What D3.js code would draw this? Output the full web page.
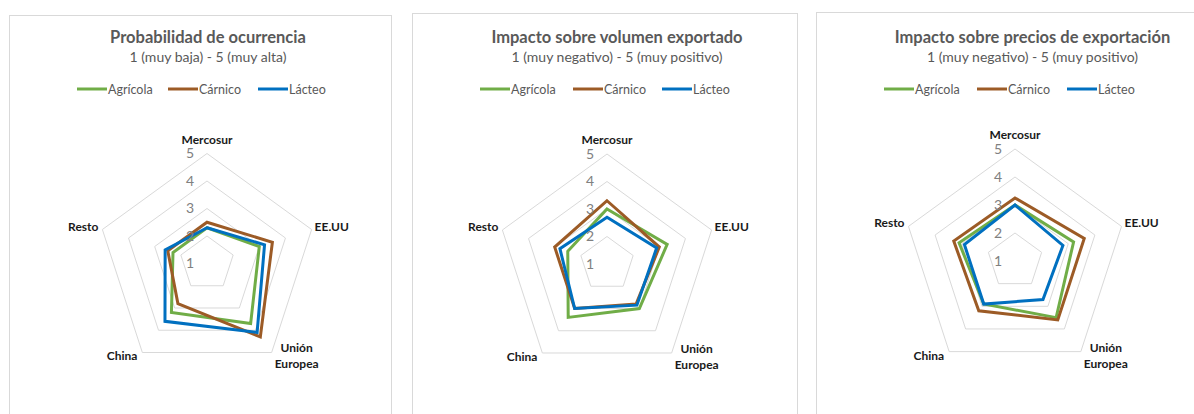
<!DOCTYPE html>
<html>
<head>
<meta charset="utf-8">
<script src="https://cdn.jsdelivr.net/npm/d3@7"></script>
<style>
  html, body { margin: 0; padding: 0; background: #fff; }
  svg { display: block; font-family: Lato, "Open Sans", sans-serif; }
</style>
</head>
<body>
<svg id="chart" width="1194" height="414"></svg>
<script>
// ---- data ----
const categories = ["Mercosur", "EE.UU", "Unión Europea", "China", "Resto"];
const seriesNames = ["Agrícola", "Cárnico", "Lácteo"];
const tickLabels = ["1", "2", "3", "4", "5"];
const titles = ["Probabilidad de ocurrencia", "Impacto sobre volumen exportado", "Impacto sobre precios de exportación"];
const subtitles = ["1 (muy baja) - 5 (muy alta)", "1 (muy negativo) - 5 (muy positivo)", "1 (muy negativo) - 5 (muy positivo)"];

const probAgricola = [2.3, 3.0, 3.7, 3.2, 2.3];
const probCarnico  = [2.5, 3.5, 4.3, 2.8, 2.5];
const probLacteo   = [2.3, 3.2, 4.1, 3.6, 2.6];

const volAgricola = [3.0, 3.3, 3.0, 3.4, 2.5];
const volCarnico  = [3.3, 3.0, 2.8, 3.0, 3.0];
const volLacteo   = [2.7, 2.9, 2.85, 3.0, 2.8];

const preAgricola = [3.0, 3.2, 3.5, 2.9, 3.1];
const preCarnico  = [3.25, 3.6, 3.6, 3.2, 3.3];
const preLacteo   = [3.0, 2.8, 2.7, 2.9, 2.9];

const panelData = [
  [probAgricola, probCarnico, probLacteo],
  [volAgricola, volCarnico, volLacteo],
  [preAgricola, preCarnico, preLacteo]
];

// ---- styles / layout ----
const colors = ["#70AD47", "#9C5B26", "#0070C0"];
const panels = [
  { box: [9, 15, 382, 420],  cx: 207,  cy: 263.5, R: 110, tx: 208,    legendX: [77, 168, 258] },
  { box: [412, 13, 385, 420], cx: 607,  cy: 264,   R: 110, tx: 617,    legendX: [480, 573, 662] },
  { box: [816, 12, 400, 420], cx: 1015, cy: 261,   R: 112, tx: 1032.5, legendX: [884, 977, 1067] }
];

const svg = d3.select("#chart");

panels.forEach((p, pi) => {
  const g = svg.append("g");
  g.append("rect")
    .attr("x", p.box[0] + 0.5).attr("y", p.box[1] + 0.5)
    .attr("width", p.box[2]).attr("height", p.box[3])
    .attr("fill", "#fff").attr("stroke", "#D9D9D9").attr("stroke-width", 1);

  g.append("text").attr("x", p.tx).attr("y", 43)
    .attr("text-anchor", "middle").attr("font-size", 16.5).attr("font-weight", "bold")
    .attr("fill", "#595959").text(titles[pi]);
  g.append("text").attr("x", p.tx).attr("y", 62)
    .attr("text-anchor", "middle").attr("font-size", 14)
    .attr("fill", "#595959").text(subtitles[pi]);

  // legend
  seriesNames.forEach((s, si) => {
    const lx = p.legendX[si];
    g.append("line").attr("x1", lx).attr("x2", lx + 30).attr("y1", 89).attr("y2", 89)
      .attr("stroke", colors[si]).attr("stroke-width", 3);
    g.append("text").attr("x", lx + 31).attr("y", 93.5).attr("font-size", 12.5)
      .attr("fill", "#595959").text(s);
  });

  const r = d3.scaleLinear().domain([1, 5]).range([0, p.R]);
  const angle = d3.scalePoint().domain(categories).range([0, 2 * Math.PI * (categories.length - 1) / categories.length]);
  const rg = g.append("g").attr("transform", `translate(${p.cx},${p.cy})`);

  // grid rings
  const ringLine = d3.lineRadial().angle(c => angle(c)).curve(d3.curveLinearClosed);
  r.ticks(4).filter(t => t > 1).forEach(t => {
    rg.append("path").attr("d", ringLine.radius(() => r(t))(categories))
      .attr("fill", "none").attr("stroke", "#D9D9D9").attr("stroke-width", 1);
  });

  // series
  const seriesLine = d3.lineRadial()
    .angle((d, i) => angle(categories[i]))
    .radius(d => r(d))
    .curve(d3.curveLinearClosed);
  panelData[pi].forEach((vals, si) => {
    rg.append("path").attr("d", seriesLine(vals))
      .attr("fill", "none").attr("stroke", colors[si]).attr("stroke-width", 3)
      .attr("stroke-linejoin", "miter");
  });

  // tick labels (drawn over the series, as in the reference)
  tickLabels.forEach(t => {
    rg.append("text").attr("x", -13).attr("y", -r(+t))
      .attr("dy", "0.35em").attr("text-anchor", "end")
      .attr("font-size", 14).attr("fill", "#808080").text(t);
  });

  // category labels
  categories.forEach(c => {
    const a = angle(c);
    const sx = Math.sin(a), sy = -Math.cos(a);
    const vx = sx * r(5), vy = sy * r(5);
    const t = rg.append("text").attr("font-size", 12).attr("font-weight", "bold").attr("fill", "#1a1a1a");
    if (c === "Mercosur") {
      t.attr("x", vx).attr("y", vy - 10).attr("text-anchor", "middle").text(c);
    } else if (c === "EE.UU") {
      t.attr("x", vx + 3).attr("y", vy + 1).attr("text-anchor", "start").text(c);
    } else if (c === "Resto") {
      t.attr("x", vx - 4).attr("y", vy + 1).attr("text-anchor", "end").text(c);
    } else if (c === "China") {
      t.attr("x", vx - 5).attr("y", vy + 8).attr("text-anchor", "end").text(c);
    } else {
      const words = c.split(" ");
      t.attr("text-anchor", "middle");
      words.forEach((w, wi) => {
        t.append("tspan").attr("x", vx + 25).attr("y", vy + 0 + wi * 16).text(w);
      });
    }
  });
});
</script>
</body>
</html>
